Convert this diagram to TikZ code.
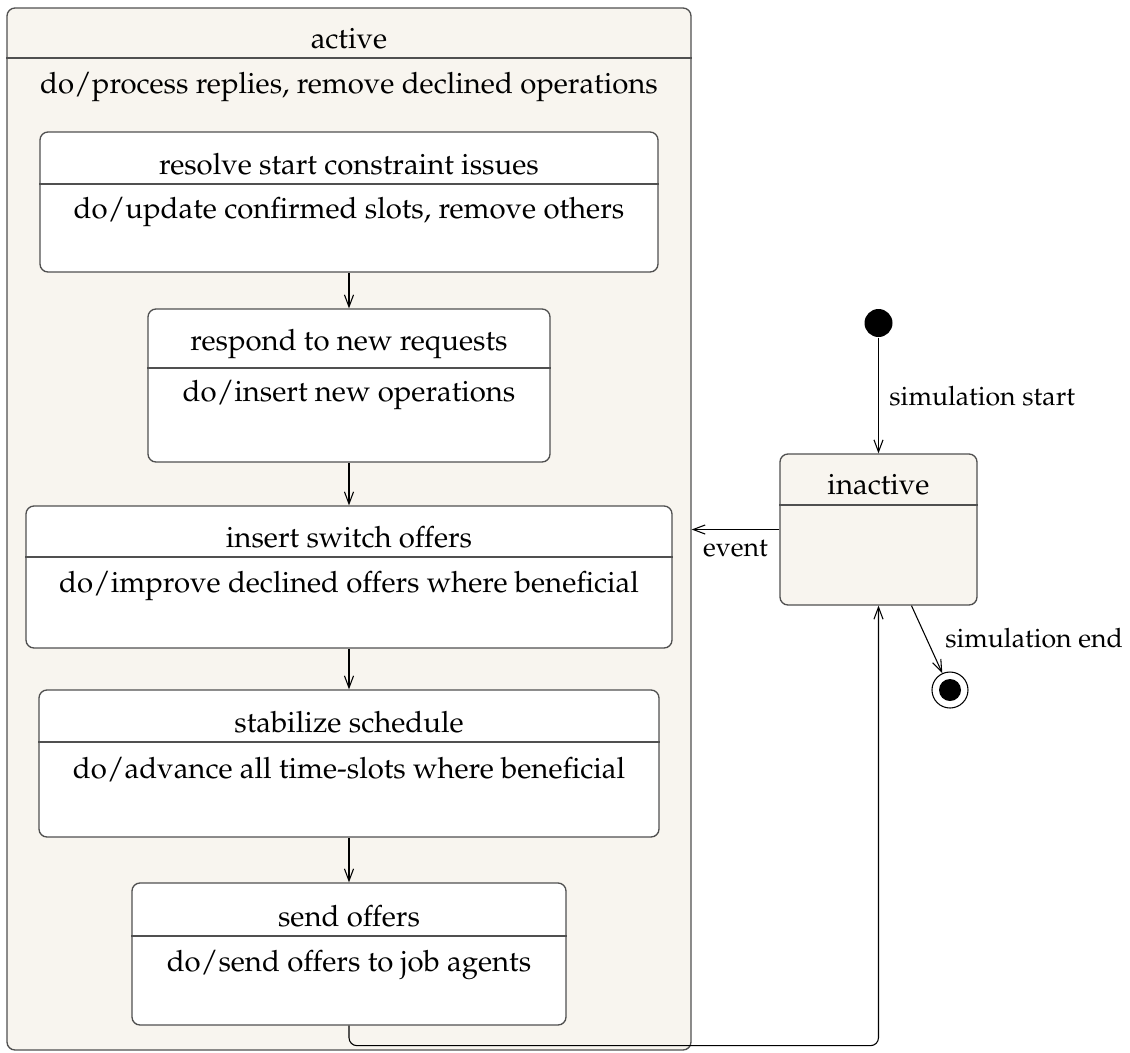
\documentclass[tikz,border=0pt]{standalone}
\usepackage[T1]{fontenc}
\usepackage{mathpazo}
\usetikzlibrary{arrows.meta}
\newdimen\pxu \pxu=0.375pt
\definecolor{statefill}{HTML}{F8F5EF}
\definecolor{stateline}{HTML}{505050}
\tikzset{
  stbox/.style={draw=stateline, line width=0.5pt, rounded corners=8\pxu, inner sep=0pt},
  outer/.style={stbox, fill=statefill},
  inner/.style={stbox, fill=white},
  sepline/.style={draw=stateline, line width=0.6pt},
  lbl/.style={font=\fontsize{11}{13}\selectfont, inner sep=0pt, anchor=base},
  arr/.style={draw=black, line width=0.4pt, -{Straight Barb[length=4.5pt,width=3.4pt]}},
  elbl/.style={font=\fontsize{10}{12}\selectfont, inner sep=0pt},
}
\begin{document}
\begin{tikzpicture}[x=0.375pt,y=-0.375pt]
\useasboundingbox (0,0) rectangle (1130,1052);

% composite state
\node[outer, minimum width=684\pxu, minimum height=1042\pxu] (act) at (349,529) {};
\draw[sepline] (act.west |- 0,58) -- (act.east |- 0,58);
\node[lbl] (actT) at (349,48) {active};
\node[lbl] (actB) at (349,93) {do/process replies, remove declined operations};

% sub-states
\node[inner, minimum width=618\pxu, minimum height=140\pxu] (s1) at (349,202) {};
\draw[sepline] (s1.west |- 0,184) -- (s1.east |- 0,184);
\node[lbl] (s1T) at (349,174) {resolve start constraint issues};
\node[lbl] (s1B) at (349,218) {do/update confirmed slots, remove others};

\node[inner, minimum width=402\pxu, minimum height=153\pxu] (s2) at (349,385.5) {};
\draw[sepline] (s2.west |- 0,368) -- (s2.east |- 0,368);
\node[lbl] (s2T) at (349,350) {respond to new requests};
\node[lbl] (s2B) at (349,401) {do/insert new operations};

\node[inner, minimum width=646\pxu, minimum height=142\pxu] (s3) at (349,577) {};
\draw[sepline] (s3.west |- 0,557) -- (s3.east |- 0,557);
\node[lbl] (s3T) at (349,547) {insert switch offers};
\node[lbl] (s3B) at (349,592) {do/improve declined offers where beneficial};

\node[inner, minimum width=620\pxu, minimum height=147\pxu] (s4) at (349,763.5) {};
\draw[sepline] (s4.west |- 0,742) -- (s4.east |- 0,742);
\node[lbl] (s4T) at (349,732) {stabilize schedule};
\node[lbl] (s4B) at (349,778) {do/advance all time-slots where beneficial};

\node[inner, minimum width=434\pxu, minimum height=142\pxu] (s5) at (349,954) {};
\draw[sepline] (s5.west |- 0,936) -- (s5.east |- 0,936);
\node[lbl] (s5T) at (349,926) {send offers};
\node[lbl] (s5B) at (349,971) {do/send offers to job agents};

% simple state
\node[outer, minimum width=197\pxu, minimum height=151\pxu] (ina) at (878.5,529.5) {};
\draw[sepline] (ina.west |- 0,505) -- (ina.east |- 0,505);
\node[lbl] (inaT) at (878.5,494) {inactive};

% pseudo states
\node[circle, fill=black, minimum size=28\pxu, inner sep=0pt] (init) at (878.5,323) {};
\node[circle, draw=black, line width=0.4pt, minimum size=36\pxu, inner sep=0pt] (fin) at (950,690) {};
\node[circle, fill=black, minimum size=22\pxu, inner sep=0pt] (finc) at (950,690) {};

% transitions
\draw[arr] (s1) -- (s2);
\draw[arr] (s2) -- (s3);
\draw[arr] (s3) -- (s4);
\draw[arr] (s4) -- (s5);
\draw[arr] (init) -- (ina.north)
  node[elbl, midway, anchor=base west, xshift=3.9pt, yshift=-3.6pt] {simulation start};
\draw[arr] (ina.west) -- (ina.west -| act.east)
  node[elbl, midway, anchor=base, yshift=-10pt] {event};
\draw[arr] ([xshift=33\pxu]ina.south) -- (fin)
  node[elbl, midway, anchor=base west, xshift=6.7pt, yshift=-3pt] {simulation end};
\draw[arr, rounded corners=8\pxu] (s5.south) -- ++(0,20) -| (ina.south);
\end{tikzpicture}
\end{document}
